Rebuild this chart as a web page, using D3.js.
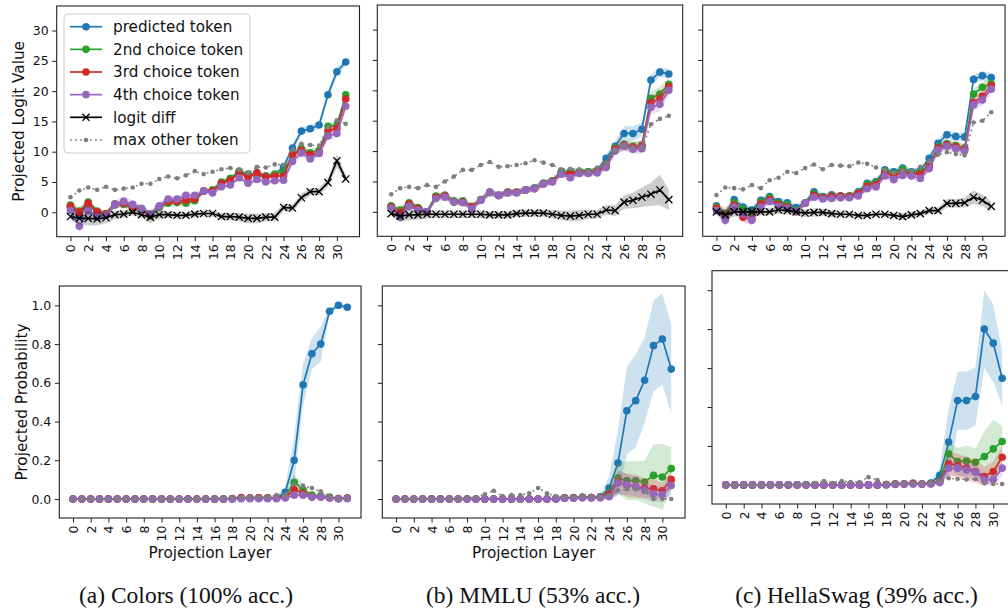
<!DOCTYPE html>
<html><head><meta charset="utf-8">
<script src="https://cdn.jsdelivr.net/npm/d3@7"></script>
<style>body{margin:0;background:#fff} svg{display:block}</style>
</head><body>
<svg id="c" width="1008" height="615"></svg>
<script>
// ---------------- data ----------------
const layers = [0,1,2,3,4,5,6,7,8,9,10,11,12,13,14,15,16,17,18,19,20,21,22,23,24,25,26,27,28,29,30,31];
const xTicks = [0,2,4,6,8,10,12,14,16,18,20,22,24,26,28,30];
const yTicksLogit = [0,5,10,15,20,25,30];
const yTicksProb = [0,0.2,0.4,0.6,0.8,1.0];
const seriesNames = ["predicted token","2nd choice token","3rd choice token","4th choice token","logit diff","max other token"];
const captions = ["(a) Colors (100% acc.)","(b) MMLU (53% acc.)","(c) HellaSwag (39% acc.)"];

// (a) Colors - projected logits
const logitA_pred = [0.9,-0.5,1.3,0.0,-0.4,1.2,1.5,1.0,0.6,-0.3,1.0,1.9,1.9,2.0,2.2,3.5,3.5,4.8,5.4,6.6,6.0,6.5,6.0,6.2,7.5,10.6,13.4,13.8,14.4,19.4,23.2,24.8];
const logitA_2nd  = [1.2,0.2,1.7,0.2,-0.2,1.4,1.3,0.6,0.6,-0.6,0.8,1.5,1.6,1.5,1.9,3.5,3.7,5.0,5.6,6.8,6.3,6.0,6.0,6.3,6.6,9.6,10.5,9.8,10.2,14.2,14.3,19.4];
const logitA_3rd  = [1.0,0.0,1.5,0.1,-0.3,1.3,1.5,0.8,0.5,-0.5,1.0,1.8,1.8,2.0,2.2,3.5,3.5,4.8,5.3,6.5,5.8,6.5,5.8,6.0,6.0,9.5,10.2,9.5,9.8,13.5,13.8,18.7];
const logitA_4th  = [0.3,-2.3,0.2,-0.8,-0.5,1.3,1.8,1.3,0.6,-0.3,1.0,2.2,2.2,2.8,2.8,3.5,3.2,4.2,4.5,5.7,4.8,5.4,5.0,5.2,5.3,8.4,9.8,8.8,9.7,12.6,13.0,17.5];
const logitA_diff = [-0.7,-1.0,-1.0,-1.1,-0.9,-0.4,-0.3,0.0,-0.4,-0.8,-0.4,-0.4,-0.5,-0.5,-0.3,-0.2,-0.2,-0.7,-0.7,-0.8,-1.0,-1.0,-0.8,-0.8,0.8,0.7,2.4,3.4,3.4,4.9,8.5,5.5];
const logitA_max  = [2.5,3.6,4.1,3.7,4.2,3.7,3.9,4.1,4.7,4.7,5.5,5.9,5.6,6.1,6.8,6.3,6.7,7.1,7.3,7.0,6.5,7.5,7.4,7.9,7.8,10.3,11.3,11.1,11.0,14.0,15.2,14.6];
const errA_pred = [0.5,0.6,0.6,0.5,0.5,0.5,0.6,0.5,0.5,0.5,0.5,0.5,0.5,0.5,0.5,0.4,0.4,0.4,0.4,0.4,0.4,0.4,0.4,0.4,0.6,0.6,0.6,0.6,0.6,0.8,0.8,0.6];
const errA_2nd  = [0.5,0.6,0.6,0.5,0.5,0.5,0.5,0.5,0.5,0.5,0.5,0.5,0.5,0.5,0.5,0.4,0.4,0.4,0.4,0.4,0.4,0.4,0.4,0.4,0.5,0.6,0.6,0.6,0.6,0.7,0.7,0.6];
const errA_3rd  = [0.5,0.6,0.6,0.5,0.5,0.5,0.5,0.5,0.5,0.5,0.5,0.5,0.5,0.5,0.5,0.4,0.4,0.4,0.4,0.4,0.4,0.4,0.4,0.4,0.5,0.6,0.6,0.6,0.6,0.7,0.7,0.6];
const errA_4th  = [0.6,1.0,0.8,0.7,0.6,0.6,0.9,0.7,0.6,0.6,0.6,0.5,0.5,0.5,0.5,0.4,0.4,0.4,0.4,0.4,0.4,0.4,0.4,0.4,0.5,0.6,0.6,0.6,0.6,0.7,0.7,0.6];
const errA_diff = [0.5,1.0,1.2,1.1,0.9,0.7,0.6,0.5,0.6,1.0,0.7,0.5,0.5,0.5,0.5,0.5,0.5,0.6,0.6,0.7,0.8,0.8,0.7,0.7,0.6,0.6,0.7,0.6,0.6,0.7,1.1,0.7];

// (b) MMLU - projected logits
const logitB_pred = [0.9,-0.3,1.4,0.6,0.0,2.5,2.7,1.7,1.7,0.8,1.9,3.2,2.7,3.2,3.2,3.6,3.9,4.7,5.1,6.6,6.6,6.6,6.6,6.8,8.8,10.8,12.9,12.9,13.6,21.7,23.0,22.7];
const logitB_2nd  = [1.0,0.3,1.5,0.7,0.0,2.6,2.7,1.8,1.8,0.9,2.0,3.2,2.7,3.2,3.2,3.6,3.9,4.7,5.1,6.6,6.6,6.6,6.6,6.7,7.8,10.5,11.1,10.8,11.0,18.7,19.4,21.0];
const logitB_3rd  = [0.8,-0.1,1.3,0.5,-0.1,2.4,2.6,1.6,1.6,0.8,1.9,3.2,2.7,3.2,3.2,3.6,3.8,4.6,5.0,6.3,6.2,6.5,6.4,6.6,7.6,10.3,10.9,10.6,10.8,18.0,18.6,20.6];
const logitB_4th  = [0.6,-0.9,0.9,0.3,0.0,2.2,2.4,1.6,1.5,0.5,1.9,3.2,2.7,3.1,3.1,3.6,3.8,4.6,4.9,6.2,5.6,6.3,6.3,6.4,7.3,10.0,10.8,10.3,10.4,17.2,17.7,20.0];
const logitB_diff = [-0.3,-0.7,-0.5,-0.5,-0.4,-0.4,-0.4,-0.4,-0.4,-0.4,-0.4,-0.5,-0.5,-0.5,-0.3,-0.2,-0.2,-0.2,-0.4,-0.6,-0.7,-0.6,-0.4,-0.4,0.3,0.2,1.6,1.9,2.4,2.9,3.6,2.0];
const logitB_max  = [2.9,3.9,4.1,3.9,4.4,4.1,5.0,5.8,6.9,6.9,7.7,8.2,7.4,7.5,7.7,8.0,8.5,8.1,7.7,7.0,7.1,7.0,6.7,7.3,8.1,10.0,10.8,10.6,10.4,14.4,15.3,15.8];
const errB_pred = [0.5,0.6,0.5,0.5,0.5,0.5,0.5,0.5,0.5,0.5,0.5,0.5,0.5,0.5,0.5,0.5,0.5,0.5,0.5,0.5,0.5,0.5,0.5,0.5,0.7,0.9,1.2,1.2,1.2,0.9,0.8,0.8];
const errB_2nd  = [0.5,0.6,0.5,0.5,0.5,0.5,0.5,0.5,0.5,0.5,0.5,0.5,0.5,0.5,0.5,0.5,0.5,0.5,0.5,0.5,0.5,0.5,0.5,0.5,0.6,0.7,0.8,0.8,0.8,1.1,1.2,1.0];
const errB_3rd  = [0.5,0.7,0.5,0.5,0.5,0.5,0.5,0.5,0.5,0.5,0.5,0.5,0.5,0.5,0.5,0.5,0.5,0.5,0.5,0.5,0.5,0.5,0.5,0.5,0.6,0.7,0.8,0.8,0.8,1.1,1.2,1.0];
const errB_4th  = [0.6,0.9,0.6,0.5,0.5,0.5,0.5,0.5,0.5,0.5,0.5,0.5,0.5,0.5,0.5,0.5,0.5,0.5,0.5,0.5,0.6,0.5,0.5,0.5,0.6,0.7,0.8,0.8,0.8,1.1,1.2,1.0];
const errB_diff = [0.4,0.9,0.9,0.8,0.7,0.6,0.6,0.6,0.6,0.6,0.6,0.6,0.6,0.6,0.6,0.6,0.6,0.6,0.7,0.8,0.9,0.9,0.8,0.7,0.8,0.9,1.1,1.3,1.6,1.9,2.5,1.7];

// (c) HellaSwag - projected logits
const logitC_pred = [1.0,-0.3,2.0,0.8,0.3,1.9,2.5,1.7,1.5,0.7,1.5,3.3,2.5,2.8,2.6,2.6,3.3,4.7,5.0,6.9,6.6,7.2,6.6,6.8,8.8,11.3,12.7,12.4,12.3,21.8,22.4,22.1];
const logitC_2nd  = [0.8,-0.4,1.5,0.4,-0.2,1.6,2.3,1.4,1.2,0.2,1.4,3.0,2.4,2.6,2.6,2.6,3.1,4.5,4.8,6.7,6.3,7.0,6.4,6.5,7.8,10.7,11.2,10.9,10.5,19.4,20.5,21.1];
const logitC_3rd  = [0.6,-0.7,1.1,-0.9,-1.2,1.3,2.0,1.2,0.8,0.0,1.4,2.7,2.3,2.5,2.6,2.5,3.0,4.2,4.5,6.4,5.9,6.5,6.2,6.2,7.5,10.5,11.0,10.7,10.3,18.0,19.0,20.8];
const logitC_4th  = [0.2,-1.4,0.8,-0.3,-1.4,0.8,1.7,0.9,0.6,0.1,1.4,2.4,2.1,2.2,2.3,2.3,2.6,3.8,4.1,5.9,5.3,6.0,5.9,5.5,7.1,10.2,10.8,10.4,10.0,17.6,18.4,20.2];
const logitC_diff = [0.0,-0.5,0.0,0.0,0.0,0.0,0.0,0.3,0.2,0.0,-0.2,-0.1,-0.1,-0.3,-0.4,-0.4,-0.6,-0.6,-0.4,-0.4,-0.6,-0.8,-0.5,-0.3,0.2,0.2,1.4,1.4,1.5,2.4,1.9,0.9];
const logitC_max  = [2.75,4.0,3.9,3.7,4.4,3.9,5.2,5.6,6.6,6.4,7.2,7.8,7.0,7.7,7.6,7.5,8.1,7.9,7.3,6.9,6.4,6.8,6.7,7.4,8.3,9.4,9.8,9.5,9.3,14.7,15.0,16.4];
const errC_pred = [0.5,0.6,0.7,0.6,0.5,0.5,0.5,0.5,0.5,0.5,0.5,0.6,0.5,0.5,0.5,0.5,0.5,0.5,0.5,0.5,0.5,0.5,0.5,0.5,0.6,0.7,0.7,0.7,0.7,0.8,0.8,0.8];
const errC_2nd  = [0.5,0.6,0.6,0.6,0.5,0.5,0.5,0.5,0.5,0.5,0.5,0.5,0.5,0.5,0.5,0.5,0.5,0.5,0.5,0.5,0.5,0.6,0.5,0.5,0.6,0.7,0.7,0.7,0.7,0.9,0.9,0.8];
const errC_3rd  = [0.6,1.4,0.8,0.9,0.9,0.6,0.5,0.5,0.5,0.5,0.5,0.5,0.5,0.5,0.5,0.5,0.5,0.5,0.5,0.5,0.5,0.5,0.5,0.5,0.6,0.7,0.7,0.7,0.7,0.9,0.9,0.8];
const errC_4th  = [0.6,1.0,0.7,0.7,0.8,0.6,0.5,0.5,0.5,0.5,0.5,0.5,0.5,0.5,0.5,0.5,0.5,0.5,0.5,0.5,0.6,0.5,0.5,0.6,0.6,0.7,0.7,0.7,0.7,0.9,0.9,0.8];
const errC_diff = [0.5,0.8,0.8,0.7,0.8,0.6,0.6,0.6,0.6,0.6,0.6,0.7,0.6,0.6,0.5,0.5,0.4,0.4,0.4,0.4,0.5,0.6,0.5,0.5,0.5,0.5,0.7,0.7,0.8,1.1,1.0,0.8];

// (a) Colors - projected probability
const probA_pred = [0,0,0,0,0,0,0,0,0,0,0,0,0,0,0,0,0,0,0,0.005,0.005,0.005,0.005,0.005,0.035,0.20,0.59,0.75,0.80,0.97,1.0,0.99];
const probA_2nd  = [0,0,0,0,0,0,0,0,0,0,0,0,0,0,0,0,0,0,0.003,0.005,0.005,0.006,0.006,0.006,0.012,0.086,0.048,0.02,0.015,0.01,0.003,0.005];
const probA_3rd  = [0,0,0,0,0,0,0,0,0,0,0,0,0,0,0,0,0,0,0.003,0.008,0.005,0.006,0.005,0.005,0.01,0.048,0.03,0.01,0.01,0.005,0.002,0.005];
const probA_4th  = [0,0,0,0,0,0,0,0,0,0,0,0,0,0,0,0,0,0,0.001,0.002,0.002,0.002,0.002,0.002,0.005,0.02,0.02,0.01,0.01,0.005,0.001,0.002];
const probA_max  = [0,0,0,0,0,0,0,0,0,0,0,0,0,0,0.003,0.002,0.003,0.005,0.006,0.008,0.008,0.01,0.01,0.02,0.02,0.077,0.069,0.057,0.04,0.01,0.0,0.0];
const perrA_pred = [0,0,0,0,0,0,0,0,0,0,0,0,0,0,0,0,0,0,0,0.003,0.003,0.003,0.003,0.005,0.035,0.12,0.11,0.08,0.09,0.02,0.005,0.01];
const perrA_2nd  = [0,0,0,0,0,0,0,0,0,0,0,0,0,0,0,0,0,0,0.002,0.003,0.003,0.003,0.003,0.004,0.008,0.04,0.03,0.015,0.01,0.006,0.002,0.003];
const perrA_3rd  = [0,0,0,0,0,0,0,0,0,0,0,0,0,0,0,0,0,0,0.002,0.003,0.003,0.003,0.003,0.004,0.006,0.02,0.015,0.008,0.006,0.004,0.002,0.003];
const perrA_4th  = [0,0,0,0,0,0,0,0,0,0,0,0,0,0,0,0,0,0,0,0,0,0,0,0,0.003,0.01,0.01,0.006,0.005,0.003,0,0];

// (b) MMLU - projected probability
const probB_pred = [0,0,0,0,0,0,0,0,0,0,0,0,0,0,0,0,0,0,0,0.005,0.005,0.008,0.008,0.012,0.057,0.186,0.456,0.508,0.613,0.792,0.826,0.671];
const probB_2nd  = [0,0,0,0,0,0,0,0,0,0,0,0,0,0,0,0,0,0,0.002,0.006,0.007,0.01,0.008,0.01,0.03,0.108,0.095,0.095,0.088,0.122,0.114,0.157];
const probB_3rd  = [0,0,0,0,0,0,0,0,0,0,0,0,0,0,0,0,0,0,0.002,0.005,0.006,0.008,0.007,0.008,0.025,0.088,0.072,0.065,0.055,0.053,0.043,0.10];
const probB_4th  = [0,0,0,0,0,0,0,0,0,0,0,0,0,0,0,0,0,0,0.001,0.004,0.005,0.006,0.006,0.006,0.012,0.083,0.074,0.065,0.045,0.026,0.022,0.07];
const probB_max  = [0,0,0,0,0,0,0,0,0.005,0.01,0.025,0.043,0.015,0.02,0.02,0.03,0.057,0.03,0.015,0.01,0.01,0.015,0.01,0.01,0.02,0.045,0.05,0.05,0.04,0.0,0.0,0.0];
const perrB_pred = [0,0,0,0,0,0,0,0,0,0,0,0,0,0,0,0,0,0,0,0.003,0.004,0.005,0.005,0.01,0.06,0.17,0.225,0.24,0.22,0.235,0.235,0.23];
const perrB_2nd  = [0,0,0,0,0,0,0,0,0,0,0,0,0,0,0,0,0,0,0.002,0.004,0.005,0.006,0.006,0.008,0.03,0.08,0.1,0.1,0.11,0.16,0.17,0.11];
const perrB_3rd  = [0,0,0,0,0,0,0,0,0,0,0,0,0,0,0,0,0,0,0.002,0.003,0.004,0.005,0.005,0.006,0.02,0.06,0.06,0.06,0.05,0.05,0.04,0.05];
const perrB_4th  = [0,0,0,0,0,0,0,0,0,0,0,0,0,0,0,0,0,0,0.001,0.003,0.003,0.004,0.004,0.005,0.012,0.06,0.055,0.05,0.045,0.04,0.04,0.05];

// (c) HellaSwag - projected probability
const probC_pred = [0,0,0,0,0,0,0,0,0,0,0,0,0,0,0,0,0,0,0,0.004,0.005,0.006,0.006,0.01,0.05,0.22,0.433,0.433,0.454,0.80,0.728,0.548];
const probC_2nd  = [0,0,0,0,0,0,0,0,0,0,0,0,0,0,0,0,0,0,0.002,0.005,0.006,0.008,0.005,0.008,0.02,0.16,0.12,0.123,0.116,0.146,0.185,0.223];
const probC_3rd  = [0,0,0,0,0,0,0,0,0,0,0,0,0,0,0,0,0,0,0.002,0.004,0.005,0.008,0.005,0.006,0.015,0.108,0.10,0.086,0.068,0.043,0.068,0.142];
const probC_4th  = [0,0,0,0,0,0,0,0,0,0,0,0,0,0,0,0,0,0,0.001,0.003,0.004,0.005,0.004,0.005,0.012,0.086,0.086,0.077,0.065,0.026,0.026,0.086];
const probC_max  = [0,0,0,0,0,0,0,0,0.003,0.005,0.01,0.02,0.01,0.02,0.015,0.015,0.04,0.025,0.01,0.01,0.01,0.01,0.01,0.01,0.02,0.034,0.03,0.028,0.03,0.01,0.005,0.005];
const perrC_pred = [0,0,0,0,0,0,0,0,0,0,0,0,0,0,0,0,0,0,0,0.003,0.003,0.004,0.004,0.008,0.04,0.17,0.15,0.15,0.15,0.2,0.2,0.14];
const perrC_2nd  = [0,0,0,0,0,0,0,0,0,0,0,0,0,0,0,0,0,0,0.002,0.004,0.004,0.005,0.004,0.006,0.015,0.06,0.07,0.08,0.07,0.13,0.15,0.08];
const perrC_3rd  = [0,0,0,0,0,0,0,0,0,0,0,0,0,0,0,0,0,0,0.002,0.003,0.004,0.005,0.004,0.005,0.012,0.06,0.06,0.06,0.06,0.05,0.05,0.06];
const perrC_4th  = [0,0,0,0,0,0,0,0,0,0,0,0,0,0,0,0,0,0,0.001,0.002,0.003,0.004,0.003,0.004,0.01,0.04,0.04,0.04,0.04,0.03,0.03,0.04];

// ---------------- drawing ----------------
const C = {blue:"#1f77b4", green:"#2ca02c", red:"#d62728", purple:"#9467bd", black:"#000000", gray:"#7f7f7f"};
const svg = d3.select("#c");
const FONT = "DejaVu Sans, sans-serif";
const xDomain = [-1.55, 32.55];
const logitDomain = [-4.03, 34.05];
const probDomain = [-0.098, 1.1];
let clipId = 0;

function drawPanel(p) {
  const x = d3.scaleLinear().domain(xDomain).range([p.x0, p.x1]);
  const y = d3.scaleLinear().domain(p.yDomain).range([p.y1, p.y0]);
  const g = svg.append("g");
  const cid = "clip" + (clipId++);
  svg.append("clipPath").attr("id", cid).append("rect")
    .attr("x", p.x0).attr("y", p.y0).attr("width", p.x1 - p.x0).attr("height", p.y1 - p.y0);
  const plot = g.append("g").attr("clip-path", `url(#${cid})`);

  p.series.forEach(s => {
    if (s.err) {
      const area = d3.area().x((d, i) => x(layers[i]))
        .y0((d, i) => y(d - s.err[i])).y1((d, i) => y(d + s.err[i]));
      plot.append("path").datum(s.values).attr("d", area)
        .attr("fill", s.color).attr("fill-opacity", s.bandOpacity || 0.22).attr("stroke", "none");
    }
    const line = d3.line().x((d, i) => x(layers[i])).y(d => y(d));
    plot.append("path").datum(s.values).attr("d", line).attr("fill", "none")
      .attr("stroke", s.color).attr("stroke-width", s.dotted ? 1.6 : 1.7)
      .attr("stroke-dasharray", s.dotted ? "1.8,3.2" : null);
    const pts = plot.append("g");
    s.values.forEach((d, i) => {
      const cx = x(layers[i]), cy = y(d);
      if (s.marker === "x") {
        const r = 3.6;
        pts.append("path").attr("d", `M${cx-r},${cy-r}L${cx+r},${cy+r}M${cx-r},${cy+r}L${cx+r},${cy-r}`)
          .attr("stroke", s.color).attr("stroke-width", 1.3);
      } else if (s.marker === "dot") {
        pts.append("circle").attr("cx", cx).attr("cy", cy).attr("r", 2.3).attr("fill", s.color);
      } else {
        pts.append("circle").attr("cx", cx).attr("cy", cy).attr("r", 3.8).attr("fill", s.color);
      }
    });
  });

  // frame
  g.append("rect").attr("x", p.x0).attr("y", p.y0).attr("width", p.x1 - p.x0).attr("height", p.y1 - p.y0)
    .attr("fill", "none").attr("stroke", "#222").attr("stroke-width", 1.1);

  // x axis
  const xa = g.append("g").attr("transform", `translate(0,${p.y1})`)
    .call(d3.axisBottom(x).tickValues(xTicks).tickSize(4.5).tickFormat(d3.format("d")));
  xa.select(".domain").remove();
  xa.selectAll("line").attr("stroke", "#222").attr("stroke-width", 1);
  xa.selectAll("text").attr("transform", "rotate(-90)").attr("x", -7.5).attr("y", 0).attr("dy", "0.36em")
    .style("text-anchor", "end").style("font-family", FONT).style("font-size", "12.5px").attr("fill", "#111");

  // y axis
  const ya = g.append("g").attr("transform", `translate(${p.x0},0)`)
    .call(d3.axisLeft(y).tickValues(p.yTicks).tickSize(4.5).tickPadding(3.5)
      .tickFormat(p.yLabels ? p.yFormat : () => ""));
  ya.select(".domain").remove();
  ya.selectAll("line").attr("stroke", "#222").attr("stroke-width", 1);
  ya.selectAll("text").style("font-family", FONT).style("font-size", "12.5px").attr("fill", "#111");

  if (p.ylabel) {
    g.append("text").attr("transform", `translate(${p.x0 - 38},${(p.y0 + p.y1) / 2}) rotate(-90)`)
      .attr("text-anchor", "middle").attr("dy", "0.36em").style("font-family", FONT).style("font-size", "15.3px")
      .attr("fill", "#111").text(p.ylabel);
  }
  if (p.xlabel) {
    g.append("text").attr("x", (p.x0 + p.x1) / 2).attr("y", 557.5).attr("text-anchor", "middle")
      .style("font-family", FONT).style("font-size", "15.3px").attr("fill", "#111").text(p.xlabel);
  }
  return {x, y, g};
}

function logitSeries(v) {
  return [
    {values: v[0], err: v[6], color: C.blue},
    {values: v[1], err: v[7], color: C.green},
    {values: v[2], err: v[8], color: C.red},
    {values: v[3], err: v[9], color: C.purple},
    {values: v[4], err: v[10], color: C.black, marker: "x", bandOpacity: 0.2},
    {values: v[5], color: C.gray, marker: "dot", dotted: true}
  ];
}
function probSeries(v) {
  return [
    {values: v[0], err: v[5], color: C.blue},
    {values: v[1], err: v[6], color: C.green},
    {values: v[2], err: v[7], color: C.red},
    {values: v[3], err: v[8], color: C.purple},
    {values: v[4], color: C.gray, marker: "dot", dotted: true}
  ];
}
const fmt1 = d3.format(".1f");
const fmt0 = d3.format("d");

drawPanel({x0: 56.7, x1: 359.5, y0: 6, y1: 236.7, yDomain: logitDomain, yTicks: yTicksLogit, yLabels: true, yFormat: fmt0,
  ylabel: "Projected Logit Value",
  series: logitSeries([logitA_pred, logitA_2nd, logitA_3rd, logitA_4th, logitA_diff, logitA_max, errA_pred, errA_2nd, errA_3rd, errA_4th, errA_diff])});
drawPanel({x0: 377.3, x1: 682.7, y0: 5, y1: 236.3, yDomain: logitDomain, yTicks: yTicksLogit, yLabels: false,
  series: logitSeries([logitB_pred, logitB_2nd, logitB_3rd, logitB_4th, logitB_diff, logitB_max, errB_pred, errB_2nd, errB_3rd, errB_4th, errB_diff])});
drawPanel({x0: 702.7, x1: 1005, y0: 5, y1: 236.3, yDomain: logitDomain, yTicks: yTicksLogit, yLabels: false,
  series: logitSeries([logitC_pred, logitC_2nd, logitC_3rd, logitC_4th, logitC_diff, logitC_max, errC_pred, errC_2nd, errC_3rd, errC_4th, errC_diff])});

drawPanel({x0: 59.3, x1: 361, y0: 286, y1: 518, yDomain: probDomain, yTicks: yTicksProb, yLabels: true, yFormat: fmt1,
  ylabel: "Projected Probability", xlabel: "Projection Layer",
  series: probSeries([probA_pred, probA_2nd, probA_3rd, probA_4th, probA_max, perrA_pred, perrA_2nd, perrA_3rd, perrA_4th])});
drawPanel({x0: 382.3, x1: 685, y0: 286, y1: 518, yDomain: probDomain, yTicks: yTicksProb, yLabels: false,
  xlabel: "Projection Layer",
  series: probSeries([probB_pred, probB_2nd, probB_3rd, probB_4th, probB_max, perrB_pred, perrB_2nd, perrB_3rd, perrB_4th])});
drawPanel({x0: 712, x1: 1016, y0: 270.7, y1: 504, yDomain: probDomain, yTicks: yTicksProb, yLabels: false,
  series: probSeries([probC_pred, probC_2nd, probC_3rd, probC_4th, probC_max, perrC_pred, perrC_2nd, perrC_3rd, perrC_4th])});

// legend (panel a, top)
const lg = svg.append("g");
lg.append("rect").attr("x", 64).attr("y", 14).attr("width", 186).attr("height", 139).attr("rx", 4)
  .attr("fill", "#fff").attr("fill-opacity", 0.8).attr("stroke", "#cccccc").attr("stroke-width", 1);
const legendStyles = [
  {color: C.blue}, {color: C.green}, {color: C.red}, {color: C.purple},
  {color: C.black, marker: "x"}, {color: C.gray, marker: "dot", dotted: true}
];
seriesNames.forEach((name, i) => {
  const yy = 26.7 + i * 22.65;
  const st = legendStyles[i];
  lg.append("line").attr("x1", 70).attr("x2", 102).attr("y1", yy).attr("y2", yy)
    .attr("stroke", st.color).attr("stroke-width", st.dotted ? 1.6 : 1.7).attr("stroke-dasharray", st.dotted ? "1.8,3.2" : null);
  if (st.marker === "x") {
    const r = 3.6;
    lg.append("path").attr("d", `M${86-r},${yy-r}L${86+r},${yy+r}M${86-r},${yy+r}L${86+r},${yy-r}`)
      .attr("stroke", st.color).attr("stroke-width", 1.3);
  } else {
    lg.append("circle").attr("cx", 86).attr("cy", yy).attr("r", st.marker === "dot" ? 2.3 : 3.8).attr("fill", st.color);
  }
  lg.append("text").attr("x", 113).attr("y", yy).attr("dy", "0.36em").style("font-family", FONT)
    .style("font-size", "15.2px").attr("fill", "#111").text(name);
});

// captions
const capX = [186, 533, 856.5];
captions.forEach((t, i) => {
  svg.append("text").attr("x", capX[i]).attr("y", 603).attr("text-anchor", "middle")
    .style("font-family", "Liberation Serif, Times New Roman, serif").style("font-size", "23.5px")
    .attr("fill", "#111").text(t);
});
</script></body></html>
